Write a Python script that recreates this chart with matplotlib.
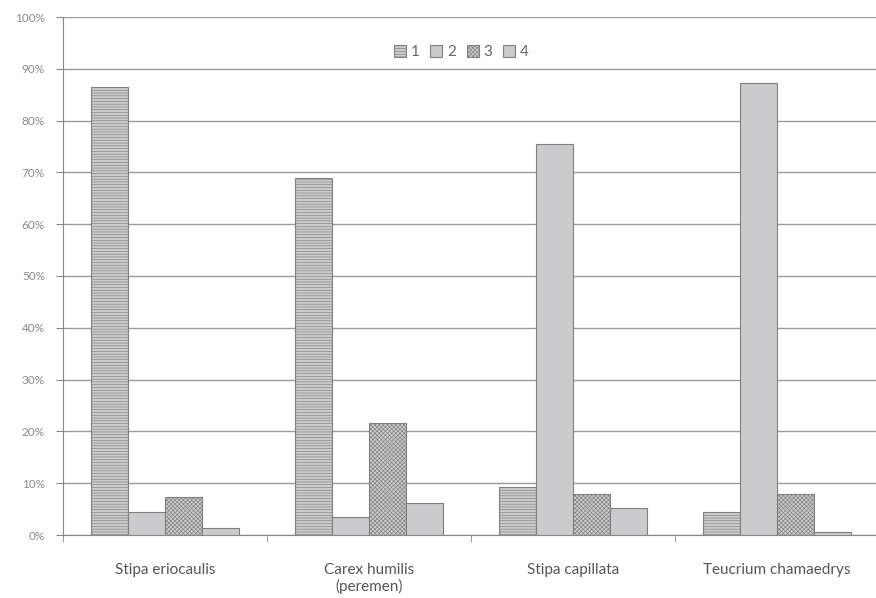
import numpy as np
import matplotlib
matplotlib.use("Agg")
import matplotlib.pyplot as plt
from matplotlib.ticker import FixedLocator, PercentFormatter

plt.rcParams['font.family'] = ['Lato', 'DejaVu Sans']
plt.rcParams['hatch.color'] = '#a8a8a8'
plt.rcParams['hatch.linewidth'] = 0.45

# data (percent)
species = ["Stipa eriocaulis", "Carex humilis\n(peremen)", "Stipa capillata", "Teucrium chamaedrys"]
series_names = ["1", "2", "3", "4"]
s1 = [86.5, 69.0, 9.2, 4.5]
s2 = [4.5, 3.4, 75.5, 87.3]
s3 = [7.4, 21.6, 7.9, 7.9]
s4 = [1.3, 6.2, 5.2, 0.5]

series = [s1, s2, s3, s4]
hatches = ['------', None, 'xxxxxxxx', None]

fig = plt.figure(figsize=(8.76, 5.98), dpi=100)
ax = fig.add_axes([63/876, 63/598, 816/876, 518/598])

x = np.arange(len(species))
w = 0.181
for i, vals in enumerate(series):
    ax.bar(x + (i - 1.5) * w, vals, width=w, color='#cbcbcd', edgecolor='#808080',
           linewidth=0.8, hatch=hatches[i], label=series_names[i], zorder=3)

ax.set_xlim(-0.5, 3.5)
ax.set_ylim(0, 100)
ax.set_yticks(np.arange(0, 101, 10))
ax.yaxis.set_major_formatter(PercentFormatter(decimals=0))
ax.yaxis.grid(True, color='#9a9a9a', linewidth=1.0, zorder=0)

ax.set_xticks(x)
ax.set_xticklabels(species)
ax.xaxis.set_minor_locator(FixedLocator([-0.5, 0.5, 1.5, 2.5]))
ax.tick_params(axis='x', which='major', length=0, pad=20, labelsize=11, labelcolor='#555555')
ax.tick_params(axis='x', which='minor', length=5, color='#888888')
ax.tick_params(axis='y', length=5, color='#888888', labelsize=8.5, labelcolor='#8a8a8a', pad=8)

for s in ['top', 'right']:
    ax.spines[s].set_visible(False)
ax.spines['left'].set_color('#888888')
ax.spines['bottom'].set_color('#888888')

leg = ax.legend(loc='upper center', bbox_to_anchor=(0.5 - 0.012, 0.972), ncol=4, frameon=False,
                handlelength=0.8, handleheight=0.8, handletextpad=0.3, columnspacing=0.7,
                fontsize=11)
for t in leg.get_texts():
    t.set_color('#666666')

fig.savefig("out.png", dpi=100)
